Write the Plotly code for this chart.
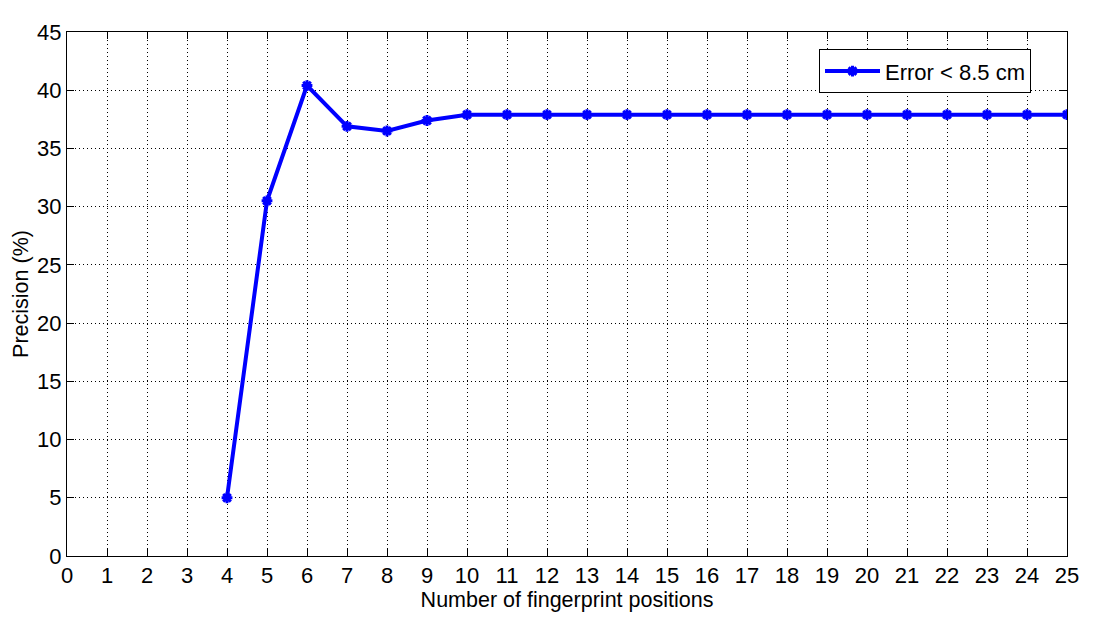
import plotly.graph_objects as go

x_vals = list(range(4, 26))
precision = [5.0, 30.5, 40.4, 36.9, 36.5, 37.4] + [37.9] * 16
series_name = "Error < 8.5 cm"
x_ticks = list(range(0, 26))
y_ticks = list(range(0, 46, 5))

fig = go.Figure()
fig.add_trace(go.Scatter(
    x=x_vals, y=precision, mode="lines+markers", name=series_name,
    line=dict(color="#0000ff", width=4),
    marker=dict(symbol="asterisk", size=9, color="#0000ff",
                line=dict(color="#0000ff", width=3)),
))

fam = "Liberation Sans, Arial, sans-serif"
tick_font = dict(family=fam, size=22, color="black")
title_font = dict(family=fam, size=21.5, color="black")
axis_common = dict(
    showline=True, linecolor="black", linewidth=1, mirror="ticks",
    ticks="inside", ticklen=7, tickcolor="black",
    showgrid=True, gridcolor="black", griddash="1px,3px", gridwidth=1,
    zeroline=False, tickfont=tick_font,
)
fig.update_xaxes(range=[0, 25], tickvals=x_ticks,
                 title=dict(text="Number of fingerprint positions", font=title_font, standoff=4),
                 **axis_common)
fig.update_yaxes(range=[0, 45], tickvals=y_ticks,
                 title=dict(text="Precision (%)", font=title_font, standoff=2),
                 **axis_common)

fig.update_layout(
    width=1091, height=619,
    margin=dict(l=59, r=32, t=18, b=71),
    paper_bgcolor="white", plot_bgcolor="white",
    font=tick_font,
    showlegend=True,
    legend=dict(x=0.964, y=0.967, xanchor="right", yanchor="top",
                bordercolor="black", borderwidth=1, bgcolor="white",
                itemwidth=55,
                font=dict(family=fam, size=22, color="black")),
)
fig.write_html("out.html")
